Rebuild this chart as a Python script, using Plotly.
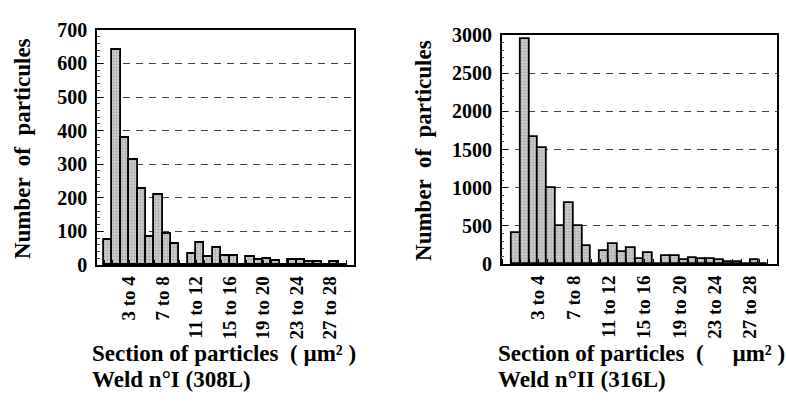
import plotly.graph_objects as go

# ---- data ----
tick_labels = ["3 to 4", "7 to 8", "11 to 12", "15 to 16", "19 to 20", "23 to 24", "27 to 28"]
tick_pos = [2.5, 6.5, 10.5, 14.5, 18.5, 22.5, 26.5]

weld1_counts = [73, 640, 378, 313, 226, 84, 210, 92, 64, 0, 33, 66, 24, 50, 26, 26, 0,
                24, 16, 19, 12, 0, 14, 14, 8, 9, 0, 8, 0]
weld2_counts = [405, 2950, 1660, 1525, 1000, 495, 805, 500, 240, 0, 178, 268, 160, 218, 68, 150, 0,
                108, 108, 55, 83, 70, 68, 62, 35, 35, 0, 55, 0]

FONT = "Liberation Serif"
W, H = 786, 405

fig = go.Figure()

bar_marker = dict(
    color="#c8c8c8",
    line=dict(color="black", width=1.8),
    pattern=dict(shape=".", fgcolor="#7a7a7a", bgcolor="#cdcdcd", size=3, solidity=0.3),
)

fig.add_trace(go.Bar(x=list(range(len(weld1_counts))), y=weld1_counts, marker=bar_marker,
                     width=1, xaxis="x", yaxis="y", showlegend=False))
fig.add_trace(go.Bar(x=list(range(len(weld2_counts))), y=weld2_counts, marker=bar_marker,
                     width=1, xaxis="x2", yaxis="y2", showlegend=False))

tickfont = dict(family=FONT, size=19, color="black", weight="bold")

def xaxis_cfg(domain, rng, anchor):
    return dict(
        domain=domain, range=rng, anchor=anchor,
        tickmode="array", tickvals=tick_pos, ticktext=tick_labels, tickangle=-90,
        ticks="inside", ticklen=5, tickcolor="black", tickwidth=1,
        minor=dict(ticks="inside", dtick=1, tick0=0.5, ticklen=5, tickcolor="black", tickwidth=1),
        showline=True, linecolor="black", linewidth=1.5, mirror=True,
        showgrid=False, zeroline=False, tickfont=tickfont, fixedrange=True,
        ticklabelstandoff=2,
    )

def yaxis_cfg(domain, rng, dtick, mdtick, anchor):
    return dict(
        domain=domain, range=rng, anchor=anchor, dtick=dtick,
        ticks="inside", ticklen=6, tickcolor="black",
        minor=dict(ticks="inside", dtick=mdtick, ticklen=3, tickcolor="#444", showgrid=False),
        showline=True, linecolor="black", linewidth=1.5, mirror=True,
        showgrid=True, gridcolor="#444", gridwidth=1, griddash="7px,6px",
        zeroline=False, tickfont=dict(family=FONT, size=20, color="black", weight="bold"),
        ticklabelstandoff=4, fixedrange=True,
    )

fig.update_layout(
    width=W, height=H,
    margin=dict(l=0, r=0, t=0, b=0),
    paper_bgcolor="white", plot_bgcolor="white",
    bargap=0,
    xaxis=xaxis_cfg([97 / W, 354 / W], [-1.34, 29.37], "y"),
    yaxis=yaxis_cfg([1 - 268.5 / H, 1 - 20 / H], [0, 700], 100, 20, "x"),
    xaxis2=xaxis_cfg([501.7 / W, 776.7 / W], [-1.63, 29.5], "y2"),
    yaxis2=yaxis_cfg([1 - 267.7 / H, 1 - 25.3 / H], [0, 3000], 500, 100, "x2"),
)

ann_font = dict(family=FONT, size=23, color="black", weight="bold")
ytitle_font = dict(family=FONT, size=23, color="black", weight="bold")

annotations = [
    dict(text="Number  of  particules", x=22 / W, y=1 - 146 / H, textangle=-90, font=ytitle_font),
    dict(text="Number  of  particules", x=424 / W, y=1 - 148 / H, textangle=-90, font=ytitle_font),
    dict(text="Section of particles  ( \u00b5m\u00b2 )", x=90 / W, y=1 - 362 / H, xanchor="left", font=ann_font),
    dict(text="Weld n\u00b0I (308L)", x=90 / W, y=1 - 390 / H, xanchor="left", font=ann_font),
    dict(text="Section of particles  (     \u00b5m\u00b2 )", x=496 / W, y=1 - 362 / H, xanchor="left", font=ann_font),
    dict(text="Weld n\u00b0II (316L)", x=496 / W, y=1 - 390 / H, xanchor="left", font=ann_font),
]
for a in annotations:
    a.update(xref="paper", yref="paper", showarrow=False, yanchor=a.get("yanchor", "middle"),
             xanchor=a.get("xanchor", "center"))
fig.update_layout(annotations=annotations)

fig.write_html("out.html", config={"displayModeBar": False},
               post_script="document.body.style.margin='0';document.body.style.overflow='hidden';")
